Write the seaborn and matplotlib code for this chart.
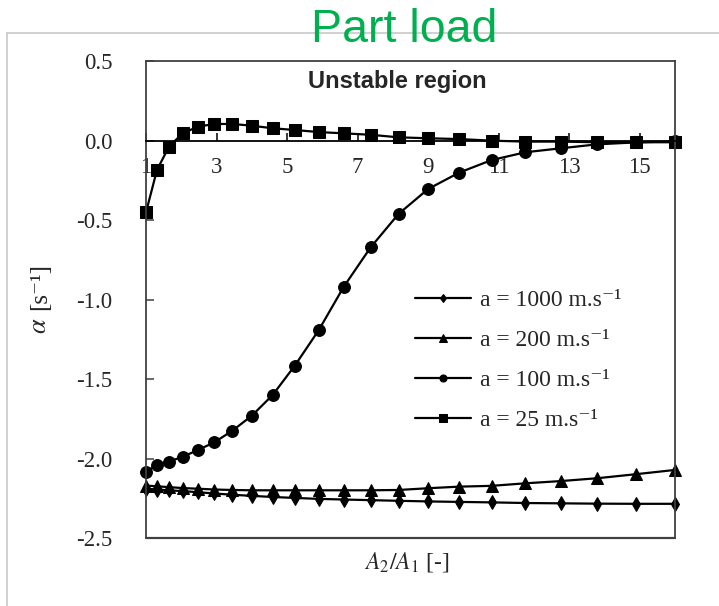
import matplotlib
matplotlib.use("Agg")
import matplotlib.pyplot as plt
import seaborn as sns
import numpy as np
import pandas as pd
from matplotlib.lines import Line2D

# ---------------- data ----------------
area_ratio = [1.0, 1.31, 1.65, 2.04, 2.47, 2.94, 3.45, 4.0, 4.59, 5.22, 5.9,
              6.61, 7.37, 8.16, 9.0, 9.88, 10.8, 11.76, 12.76, 13.8, 14.88, 16.0]

alpha_1000 = [-2.19, -2.195, -2.20, -2.205, -2.212, -2.22, -2.228, -2.235, -2.242,
              -2.248, -2.254, -2.258, -2.262, -2.266, -2.27, -2.273, -2.276,
              -2.28, -2.282, -2.284, -2.285, -2.285]
alpha_200 = [-2.17, -2.175, -2.18, -2.186, -2.19, -2.195, -2.198, -2.2, -2.2,
             -2.2, -2.2, -2.2, -2.2, -2.198, -2.187, -2.177, -2.172, -2.156,
             -2.142, -2.124, -2.099, -2.072]
alpha_100 = [-2.083, -2.041, -2.02, -1.989, -1.947, -1.898, -1.825, -1.731, -1.601,
             -1.416, -1.192, -0.919, -0.672, -0.462, -0.305, -0.202, -0.123,
             -0.074, -0.049, -0.024, -0.012, -0.005]
alpha_25 = [-0.452, -0.186, -0.039, 0.045, 0.087, 0.104, 0.104, 0.093, 0.077,
            0.066, 0.053, 0.045, 0.036, 0.020, 0.014, 0.009, -0.001, -0.007,
            -0.007, -0.011, -0.011, -0.011]

series_labels = ["a = 1000 m.s\u207b\u00b9", "a = 200 m.s\u207b\u00b9",
                 "a = 100 m.s\u207b\u00b9", "a = 25 m.s\u207b\u00b9"]
x_ticks = [1, 3, 5, 7, 9, 11, 13, 15]
y_ticks = [0.5, 0.0, -0.5, -1.0, -1.5, -2.0, -2.5]
y_tick_labels = ["0.5", "0.0", "-0.5", "-1.0", "-1.5", "-2.0", "-2.5"]

# ---------------- style ----------------
sns.set_theme(style="white")
plt.rcParams["font.family"] = ["Liberation Serif", "DejaVu Serif"]
plt.rcParams["mathtext.fontset"] = "stix"

W, H = 719, 606
fig = plt.figure(figsize=(W / 100, H / 100), dpi=100)
ax = fig.add_axes([146 / W, 1 - 538 / H, (675 - 146) / W, (538 - 61) / H])

series = [alpha_1000, alpha_200, alpha_100, alpha_25]
markers = ["d", "^", "o", "s"]
msizes = [7.5, 8.5, 8.5, 8.5]
for vals, lab, mk, ms in zip(series, series_labels, markers, msizes):
    sns.lineplot(x=area_ratio, y=vals, ax=ax, color="black", linewidth=1.6,
                 marker=mk, markersize=ms, markeredgecolor="black",
                 markerfacecolor="black", label=lab, sort=False, clip_on=False)

ax.set_xlim(1, 16)
ax.set_ylim(-2.5, 0.5)

# x axis crossing at y = 0
for s in ["top", "left", "right"]:
    ax.spines[s].set_color("#404040")
    ax.spines[s].set_linewidth(1.3)
ax.spines["bottom"].set_position(("data", 0))
ax.spines["bottom"].set_color("black")
ax.spines["bottom"].set_linewidth(1.3)
ax.plot([0, 1], [0, 0], transform=ax.transAxes, color="#404040", lw=1.6,
        clip_on=False)

ax.set_xticks(x_ticks)
ax.set_xticklabels([str(t) for t in x_ticks])
ax.set_yticks(y_ticks)
ax.set_yticklabels(y_tick_labels)
ax.tick_params(axis="x", direction="in", length=6, width=1.1, color="black",
               pad=12, labelsize=16.5, bottom=True)
ax.tick_params(axis="y", direction="in", length=6, width=1.1, color="#404040",
               pad=24, labelsize=16.5, left=True)
ax.set_xlabel("")
ax.set_ylabel("")

# legend
leg = ax.legend(loc="upper left", bbox_to_anchor=(0.49, 0.54), frameon=False,
                fontsize=17, handlelength=2.4, handletextpad=0.35,
                labelspacing=0.78, markerscale=0.6, borderaxespad=0)

# texts
ax.text(0.4745, 0.956, "Unstable region", transform=ax.transAxes, ha="center",
        va="center", fontsize=17, fontweight="bold",
        family=["Liberation Sans", "DejaVu Sans"])
fig.text(404 / W, 1 - 30 / H, "Part load", ha="center", va="center",
         fontsize=33.5, color="#00B050", family=["Liberation Sans", "DejaVu Sans"])
# y label: italic alpha + unit
fig.text(40 / W, 1 - 326 / H, r"$\alpha$", rotation=90,
         ha="center", va="center", fontsize=19)
fig.text(40 / W, 1 - 287 / H, "[s\u207b\u00b9]", rotation=90,
         ha="center", va="center", fontsize=18)
fig.text(407 / W, 1 - 562 / H, r"$A_2/A_1$ [-]", ha="center", va="center",
         fontsize=17)

# faint figure frame (top and left edges)
fig.add_artist(Line2D([7 / W, 1], [1 - 33 / H, 1 - 33 / H], color="#c8c8c8",
                      lw=1.2, transform=fig.transFigure))
fig.add_artist(Line2D([7 / W, 7 / W], [0, 1 - 33 / H], color="#c8c8c8",
                      lw=1.2, transform=fig.transFigure))

fig.savefig("out.png", dpi=100)
